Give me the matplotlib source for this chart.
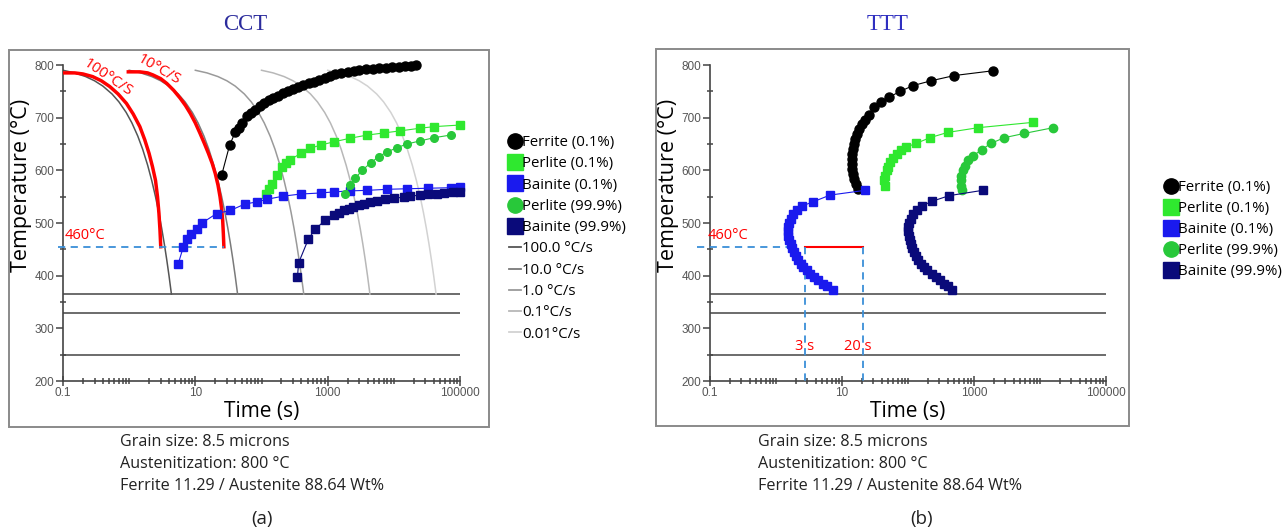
import numpy as np
import matplotlib.pyplot as plt
from matplotlib.ticker import LogLocator, NullFormatter
from matplotlib.lines import Line2D
from matplotlib.patches import Rectangle

plt.rcParams["font.family"] = ["Open Sans", "DejaVu Sans"]

W, H = 1287, 532

# ---- CCT data -------------------------------------------------------------
rates = ["100.0 °C/s", "10.0 °C/s", "1.0 °C/s", "0.1°C/s", "0.01°C/s"]
rate_colors = ["#555555", "#7a7a7a", "#9a9a9a", "#b8b8b8", "#d2d2d2"]
cool_temp = [790, 785, 778, 770, 760, 745, 730, 710, 690, 665, 640, 610,
             580, 550, 520, 490, 460, 430, 400, 365]
cool_t100 = [0.10, 0.15, 0.22, 0.30, 0.40, 0.55, 0.70, 0.90, 1.10, 1.35, 1.60,
             1.90, 2.20, 2.50, 2.80, 3.10, 3.40, 3.70, 4.00, 4.35]
cool_t10 = [1.0, 1.5, 2.2, 3.0, 4.0, 5.5, 7.0, 9.0, 11, 13.5, 16, 19, 22, 25,
            28, 31, 34, 37, 40, 43.5]
cool_t1 = [10, 15, 22, 30, 40, 55, 70, 90, 110, 135, 160, 190, 220, 250, 280,
           310, 340, 370, 400, 435]
cool_t01 = [100, 150, 220, 300, 400, 550, 700, 900, 1100, 1350, 1600, 1900,
            2200, 2500, 2800, 3100, 3400, 3700, 4000, 4350]
cool_t001 = [1000, 1500, 2200, 3000, 4000, 5500, 7000, 9000, 11000, 13500,
             16000, 19000, 22000, 25000, 28000, 31000, 34000, 37000, 40000, 43500]

red100_t = [0.10, 0.15, 0.20, 0.28, 0.38, 0.51, 0.68, 0.91, 1.15, 1.45, 1.72,
            2.0, 2.25, 2.5, 2.68, 2.82, 2.92, 3.0]
red100_T = [785, 785, 783, 778, 770, 759, 745, 727, 707, 683, 658, 632, 607,
            581, 550, 518, 487, 455]
red10_t = [0.97, 1.45, 1.9, 2.3, 3.0, 3.7, 4.7, 5.9, 7.1, 8.4, 10, 11.8, 13.7,
           15.8, 18, 20, 22, 23.6, 24.9, 25.9, 26.5, 27]
red10_T = [787, 787, 785, 781, 774, 765, 752, 737, 723, 708, 690, 670, 651,
           632, 613, 594, 572, 550, 528, 505, 480, 455]

cct_fer_t = [25, 33, 40, 45, 50, 60, 70, 80, 95, 110, 130, 150, 180, 210, 250,
             300, 360, 430, 520, 620, 750, 900, 1100, 1300, 1600, 2000, 2500,
             3000, 3800, 4800, 6000, 7500, 9500, 12000, 15000, 18000, 22000]
cct_fer_T = [591, 648, 672, 680, 690, 703, 709, 714, 722, 728, 733, 737, 742,
             746, 750, 754, 758, 762, 765, 768, 772, 775, 779, 782, 784, 787,
             789, 790, 792, 793, 794, 795, 796, 797, 798, 799, 800]

cct_per1_t = [115, 130, 145, 170, 204, 235, 270, 390, 550, 780, 1230, 2190,
              3980, 7080, 12600, 25100, 40700, 100000]
cct_per1_T = [555, 565, 575, 591, 607, 614, 620, 632, 642, 648, 654, 661,
              667, 671, 675, 680, 683, 686]

cct_per9_t = [1860, 2190, 2630, 3310, 4470, 5890, 7940, 11200, 15800, 25100,
              40700, 72400]
cct_per9_T = [556, 572, 585, 600, 614, 626, 635, 643, 650, 656, 662, 667]

cct_bai1_t = [5.5, 6.6, 7.4, 8.7, 10.5, 12.6, 21, 34, 56, 85, 120, 214, 390,
              780, 1230, 2190, 3980, 7940, 15800, 32400, 72400, 100000]
cct_bai1_T = [422, 455, 470, 480, 489, 500, 518, 524, 536, 540, 545, 551, 555,
              557, 559, 561, 562, 564, 565, 566, 567, 569]

cct_bai9_t = [350, 363, 513, 646, 912, 1230, 1480, 1740, 2090, 2450, 2950,
              3550, 4370, 5620, 7410, 10000, 14100, 17800, 25100, 32400, 45700,
              57500, 79400, 100000]
cct_bai9_T = [398, 424, 470, 488, 505, 515, 519, 524, 527, 531, 534, 537, 540,
              542, 545, 547, 549, 551, 553, 555, 556, 557, 558, 559]

# ---- TTT data -------------------------------------------------------------
ttt_fer_t = [17.7, 16.3, 15.4, 14.7, 14.2, 14.0, 14.0, 14.2, 14.5, 15.0, 15.7,
             16.7, 18.1, 20.1, 22.3, 25.6, 30.5, 39, 52, 76, 120, 223, 504, 1920]
ttt_fer_T = [565, 574, 584, 593, 603, 612, 622, 631, 641, 650, 660, 669, 679,
             688, 696, 706, 720, 729, 739, 750, 761, 770, 780, 789]

ttt_per1_t = [45, 44, 45, 48, 50, 53, 60, 67, 77, 93, 132, 215, 400, 1160, 7700]
ttt_per1_T = [571, 581, 590, 600, 607, 616, 624, 631, 638, 644, 651, 662, 672,
              681, 691]

ttt_per9_t = [650, 628, 628, 643, 673, 731, 820, 977, 1306, 1790, 2880, 5730,
              15900]
ttt_per9_T = [562, 571, 581, 590, 600, 609, 619, 628, 639, 651, 662, 670, 681]

ttt_bai1_t = [22.3, 6.6, 3.6, 2.45, 2.06, 1.83, 1.67, 1.57, 1.54, 1.52, 1.54,
              1.59, 1.67, 1.77, 1.87, 2.01, 2.18, 2.36, 2.59, 2.92, 3.27, 3.77,
              4.38, 5.09, 5.86, 7.2]
ttt_bai1_T = [562, 553, 540, 532, 525, 517, 508, 500, 492, 485, 476, 468, 461,
              453, 445, 437, 429, 423, 416, 410, 404, 397, 391, 385, 380, 372]

ttt_bai9_t = [1350, 423, 228, 161, 135, 120, 111, 105, 101, 101, 102, 106, 110,
              116, 123, 132, 144, 156, 175, 196, 228, 263, 305, 351, 399, 459]
ttt_bai9_T = [562, 552, 541, 532, 525, 517, 508, 500, 492, 485, 476, 468, 461,
              453, 445, 437, 429, 423, 416, 410, 404, 397, 391, 385, 380, 372]

hlines_T = [365, 330, 250]
info = ["Grain size: 8.5 microns", "Austenitization: 800 °C",
        "Ferrite 11.29 / Austenite 88.64 Wt%"]

phase_style = [
    ("Ferrite (0.1%)", "o", "#000000"),
    ("Perlite (0.1%)", "s", "#2fe82f"),
    ("Bainite (0.1%)", "s", "#1a1aee"),
    ("Perlite (99.9%)", "o", "#28c83a"),
    ("Bainite (99.9%)", "s", "#0a0a7a"),
]


def px_rect(x0, y0, x1, y1):
    return [x0 / W, 1 - y1 / H, (x1 - x0) / W, (y1 - y0) / H]


def style_axes(ax):
    ax.set_xscale("log")
    ax.set_xlim(0.1, 100000)
    ax.set_ylim(200, 800)
    for s in ["top", "right"]:
        ax.spines[s].set_visible(False)
    for s in ["left", "bottom"]:
        ax.spines[s].set_color("#444444")
        ax.spines[s].set_linewidth(1.2)
    ax.set_xticks([0.1, 10, 1000, 100000], ["0.1", "10", "1000", "100000"])
    ax.xaxis.set_minor_locator(LogLocator(base=10, subs=np.arange(1, 10), numticks=100))
    ax.xaxis.set_minor_formatter(NullFormatter())
    ax.set_yticks(np.arange(200, 801, 100))
    ax.set_yticks(np.arange(250, 800, 100), minor=True)
    ax.tick_params(axis="both", which="major", direction="out", length=5,
                   width=1.1, color="#444444", labelcolor="#555555",
                   labelsize=8.5, pad=1)
    ax.tick_params(axis="x", which="major", direction="inout", length=7)
    ax.tick_params(axis="both", which="minor", direction="inout", length=5,
                   width=1.1, color="#444444")
    for lab in ax.get_xticklabels() + ax.get_yticklabels():
        lab.set_family(["Liberation Sans"])
    ax.set_xlabel("Time (s)", fontsize=15, labelpad=1)
    ax.set_ylabel("Temperature (°C)", fontsize=15.5)
    ax.yaxis.set_label_coords(-0.078, 0.62)
    for T in hlines_T:
        ax.plot([0.1, 100000], [T, T], color="#444444", lw=1.1)


def phase(ax, t, T, k, ms):
    name, m, c = phase_style[k]
    ax.plot(t, T, color=c, lw=0.8, marker=m, ms=ms, mec=c, mfc=c,
            clip_on=False, zorder=4)


fig = plt.figure(figsize=(W / 100, H / 100), dpi=100)

# frames
for (x0, y0, x1, y1) in [(9, 50, 489, 427), (656, 49, 1129, 426)]:
    fig.patches.append(Rectangle((x0 / W, 1 - y1 / H), (x1 - x0) / W, (y1 - y0) / H,
                                 transform=fig.transFigure, fill=False,
                                 ec="#8a8a8a", lw=1.4))

# ---------------- CCT ----------------
ax1 = fig.add_axes(px_rect(63, 65, 460, 381))
style_axes(ax1)
for tt, c in zip([cool_t100, cool_t10, cool_t1, cool_t01, cool_t001], rate_colors):
    ax1.plot(tt, cool_temp, color=c, lw=1.1, zorder=2)
ax1.plot(red100_t, red100_T, color="#ff0000", lw=2.5, zorder=3)
ax1.plot(red10_t, red10_T, color="#ff0000", lw=2.5, zorder=3)
ax1.plot([0.085, 27], [455, 455], color="#3a8fd8", lw=1.3, ls=(0, (4, 3)),
         clip_on=False, zorder=3)
ax1.text(0.107, 462, "460°C", color="#ff0000", fontsize=10.5, va="bottom")
ax1.text(0.48, 775, "100°C/S", color="#ff0000", fontsize=11, rotation=-34,
         ha="center", va="center")
ax1.text(2.8, 790, "10°C/S", color="#ff0000", fontsize=11, rotation=-30,
         ha="center", va="center")

phase(ax1, cct_fer_t, cct_fer_T, 0, 6.5)
phase(ax1, cct_per1_t, cct_per1_T, 1, 6)
phase(ax1, cct_bai1_t, cct_bai1_T, 2, 6)
phase(ax1, cct_per9_t, cct_per9_T, 3, 5.5)
phase(ax1, cct_bai9_t, cct_bai9_T, 4, 6)

handles = [Line2D([], [], ls="none", marker=m, color=c, ms=11)
           for _, m, c in phase_style]
handles += [Line2D([], [], color=c, lw=1.3) for c in rate_colors]
labels = [p[0] for p in phase_style] + rates
fig.legend(handles, labels, loc="upper left", bbox_to_anchor=(503 / W, 1 - 129 / H),
           frameon=False, fontsize=10.8, handlelength=0.8, handletextpad=0.1,
           labelspacing=0.42, borderaxespad=0)

# ---------------- TTT ----------------
ax2 = fig.add_axes(px_rect(710, 65, 1106, 381))
style_axes(ax2)
phase(ax2, ttt_fer_t, ttt_fer_T, 0, 6.5)
phase(ax2, ttt_per1_t, ttt_per1_T, 1, 6)
phase(ax2, ttt_per9_t, ttt_per9_T, 3, 6)
phase(ax2, ttt_bai1_t, ttt_bai1_T, 2, 6)
phase(ax2, ttt_bai9_t, ttt_bai9_T, 4, 6)

ax2.plot([0.063, 1.62], [455, 455], color="#3a8fd8", lw=1.3, ls=(0, (4, 3)),
         clip_on=False, zorder=3)
ax2.plot([2.75, 20.6], [455, 455], color="#ff0000", lw=1.5, zorder=3)
for x in [2.75, 20.6]:
    ax2.plot([x, x], [455, 195], color="#3a8fd8", lw=1.3, ls=(0, (4, 3)),
             clip_on=False, zorder=3)
ax2.text(0.19, 462, "460°C", color="#ff0000", fontsize=10.5, ha="center", va="bottom")
ax2.text(2.75, 265, "3 s", color="#ff0000", fontsize=10.5, ha="center", va="center")
ax2.text(17.5, 265, "20 s", color="#ff0000", fontsize=10.5, ha="center", va="center")

handles2 = [Line2D([], [], ls="none", marker=m, color=c, ms=11)
            for _, m, c in phase_style]
fig.legend(handles2, [p[0] for p in phase_style], loc="upper left",
           bbox_to_anchor=(1159 / W, 1 - 174 / H), frameon=False, fontsize=10.8,
           handlelength=0.8, handletextpad=0.1, labelspacing=0.4, borderaxespad=0)

# ---------------- titles and captions ----------------
fig.text(245 / W, 1 - 25 / H, "CCT", family=["Liberation Serif"], fontsize=16.5,
         color="#2b2b9c", ha="center", va="center")
fig.text(888 / W, 1 - 25 / H, "TTT", family=["Liberation Serif"], fontsize=16.5,
         color="#2f2fc0", ha="center", va="center")

for x0, tag, xc in [(120, "(a)", 262), (758, "(b)", 922)]:
    for i, s in enumerate(info):
        fig.text(x0 / W, 1 - (442 + 22 * i) / H, s, fontsize=11.6,
                 color="#222222", ha="left", va="center")
    fig.text(xc / W, 1 - 519 / H, tag, fontsize=13.5, color="#222222",
             ha="center", va="center")

fig.savefig("out.png", dpi=100)
